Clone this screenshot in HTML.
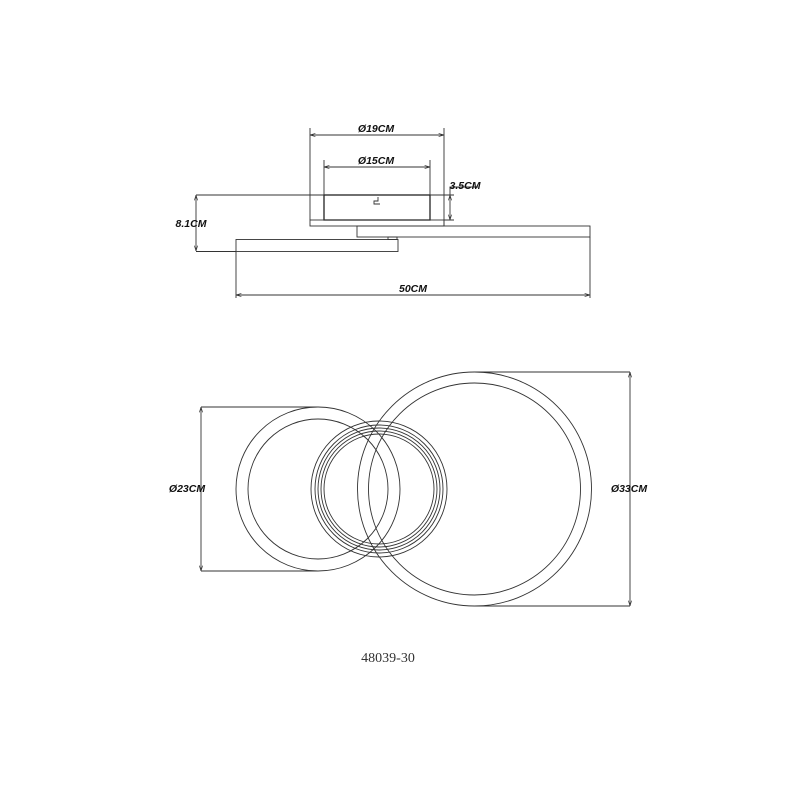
<!DOCTYPE html>
<html><head><style>body{margin:0;background:#fff}svg{display:block}</style></head><body>
<svg width="800" height="800" viewBox="0 0 800 800" xmlns="http://www.w3.org/2000/svg">
<defs><marker id="a" viewBox="0 0 10 10" refX="10" refY="5" markerWidth="6" markerHeight="6" orient="auto-start-reverse"><path d="M0,2L10,5L0,8" fill="none" stroke="#333" stroke-width="1.2"/></marker></defs>
<g fill="none" stroke="#333" stroke-width="0.9">
<rect x="324" y="195" width="106" height="25" stroke="#222" stroke-width="1.3"/>
<path d="M378,197 v4 h-4 v3 h6" />
<rect x="310" y="220" width="134" height="6"/>
<rect x="357" y="226" width="233" height="11"/>
<rect x="236" y="239.5" width="162" height="12"/>
<rect x="388" y="237" width="9" height="2.5"/>
<path d="M310,128V220 M444,128V226 M324,160V195 M430,160V195 M196,195H324 M196,251.5H236 M236,252V298 M590,237V298 M430,195H454 M444,220H454"/>
<g stroke="#333" marker-start="url(#a)" marker-end="url(#a)">
<line x1="310" y1="135" x2="444" y2="135"/>
<line x1="324" y1="167" x2="430" y2="167"/>
<line x1="450" y1="195" x2="450" y2="220"/>
<line x1="196" y1="195" x2="196" y2="251"/>
<line x1="236" y1="295" x2="590" y2="295"/>
<line x1="201" y1="407" x2="201" y2="571"/>
<line x1="630" y1="372" x2="630" y2="606"/>
</g>
<path d="M450,195V187 H478"/>
<circle cx="379" cy="489" r="68"/>
<circle cx="379" cy="489" r="64"/>
<circle cx="379" cy="489" r="61"/>
<circle cx="379" cy="489" r="58"/>
<circle cx="379" cy="489" r="55"/>
<circle cx="318" cy="489" r="82"/>
<circle cx="318" cy="489" r="70"/>
<circle cx="474.5" cy="489" r="117"/>
<circle cx="474.5" cy="489" r="106"/>
<path d="M201,407H318 M201,571H318 M474,372H630 M474,606H630"/>
</g>
<g font-family="Liberation Sans, sans-serif" font-weight="bold" font-style="italic" font-size="10.5" fill="#111" text-anchor="middle">
<text x="376" y="132">Ø19CM</text>
<text x="376" y="164">Ø15CM</text>
<text x="465" y="189">3.5CM</text>
<text x="191" y="227">8.1CM</text>
<text x="413" y="292">50CM</text>
<text x="187" y="492">Ø23CM</text>
<text x="629" y="492">Ø33CM</text>
</g>
<text x="388" y="662" font-family="Liberation Serif, serif" font-size="14" fill="#333" text-anchor="middle">48039-30</text>
</svg>
</body></html>
